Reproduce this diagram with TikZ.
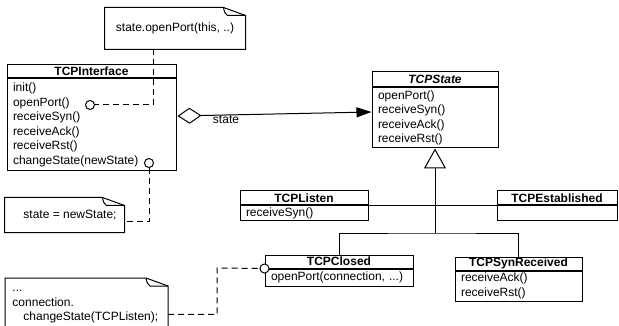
\documentclass[tikz,border=0pt]{standalone}
\usepackage{fontspec}
\setmainfont{Liberation Sans}
\usetikzlibrary{arrows.meta,positioning}

% outline of a note with a folded corner
\newcommand{\notebody}[2][0pt]{%
  \draw (#2.north west) -- ([xshift=-22pt]#2.north east) -- ([yshift=-8pt]#2.north east)
    -- ([yshift=-#1]#2.south east) -- ([yshift=-#1]#2.south west) -- cycle;
  \draw ([xshift=-22pt]#2.north east) .. controls ([xshift=-21pt,yshift=-5pt]#2.north east) .. ([xshift=-18pt,yshift=-8pt]#2.north east) -- ([yshift=-8pt]#2.north east);}

\begin{document}
\begin{tikzpicture}[x=1pt,y=-1pt,line width=1pt,
  font=\fontsize{12}{14.5}\selectfont,
  clshead/.style={draw,inner sep=0pt,minimum height=13pt,font=\fontsize{12}{14.5}\selectfont\bfseries},
  clsbody/.style={draw,align=left,inner xsep=6pt,inner ysep=1pt},
  notetext/.style={inner sep=0pt},
  portdot/.style={circle,draw,fill=white,inner sep=0pt,minimum size=9pt},
  dashlink/.style={dash pattern=on 6pt off 4pt}]
\useasboundingbox (0,0) rectangle (619,326);
\clip (0,0) rectangle (619,326);

\node[clshead,minimum width=169pt] (iface) at (91.5,71.5) {TCPInterface};
\node[clsbody,text width=157pt,minimum height=92pt,below=0pt of iface] (ifaceops)
  {init()\\openPort()\\receiveSyn()\\receiveAck()\\receiveRst()\\changeState(newState)};

\node[clshead,minimum width=126pt,minimum height=15pt,font=\fontsize{12}{14.5}\selectfont\bfseries\itshape] (state) at (435,79.5) {TCPState};
\node[clsbody,text width=114pt,minimum height=60pt,below=0pt of state] (stateops)
  {openPort()\\receiveSyn()\\receiveAck()\\receiveRst()};

\node[clshead,minimum width=128pt,minimum height=14pt] (listen) at (304,198) {TCPListen};
\node[clsbody,text width=116pt,minimum height=15pt,below=0pt of listen] (listenops) {receiveSyn()};

\node[clshead,minimum width=120pt,minimum height=14pt] (estab) at (557,198) {TCPEstablished};
\node[clsbody,text width=108pt,minimum height=15pt,below=0pt of estab] (estabops) {};

\node[clshead,minimum width=148pt] (closed) at (339,261.5) {TCPClosed};
\node[clsbody,text width=136pt,minimum height=17pt,below=0pt of closed] (closedops) {openPort(connection, ...)};

\node[clshead,minimum width=127pt] (synrec) at (518.5,263.5) {TCPSynReceived};
\node[clsbody,text width=115pt,minimum height=30pt,below=0pt of synrec] (synrecops)
  {receiveAck()\\receiveRst()};

% notes
\node[notetext,minimum width=140pt,minimum height=41pt] (noteopen) at (175,28.5) {state.openPort(this, ..)};
\node[notetext,minimum width=119pt,minimum height=34pt] (notestate) at (64.5,215) {\hspace*{11pt}state = newState;};
\node[notetext,anchor=north west,text width=148pt,align=left,inner xsep=7pt,inner ysep=3pt] (noteclosed) at (5,278)
  {\strut...\\connection.\\\hspace*{11pt}changeState(TCPListen);};
\notebody{noteopen}
\notebody{notestate}
\notebody[14pt]{noteclosed}

% inheritance
\coordinate (fork) at (stateops.south |- 0,233);
\draw[-{Triangle[open,length=20pt,width=22pt]}] (fork) -- (stateops.south);
\draw (closed.north) |- (fork) -| (synrec.north);
\draw (listen.south east) -- (estab.south west);

% association
\draw[{Diamond[open,length=24pt,width=16pt]}-{Triangle[length=15pt,width=10pt]}]
  ([xshift=1pt,yshift=9pt]ifaceops.east) -- ([yshift=6pt]stateops.west)
  node[pos=0.25,below,inner sep=0pt] {state};

% note links
\node[portdot] (openpin) at (90,105) {};
\node[portdot] (changepin) at (149,163) {};
\node[portdot] (closedpin) at (closed.south west) {};
\coordinate (closedbend) at (217,268);
\draw[dashlink] ([xshift=-22pt]noteopen.south) |- (openpin);
\draw[dashlink] (changepin) |- ([yshift=-7pt]notestate.east);
\draw[dashlink] ([yshift=-12pt]noteclosed.east) -| (closedbend) -- (closedpin);
\end{tikzpicture}
\end{document}
